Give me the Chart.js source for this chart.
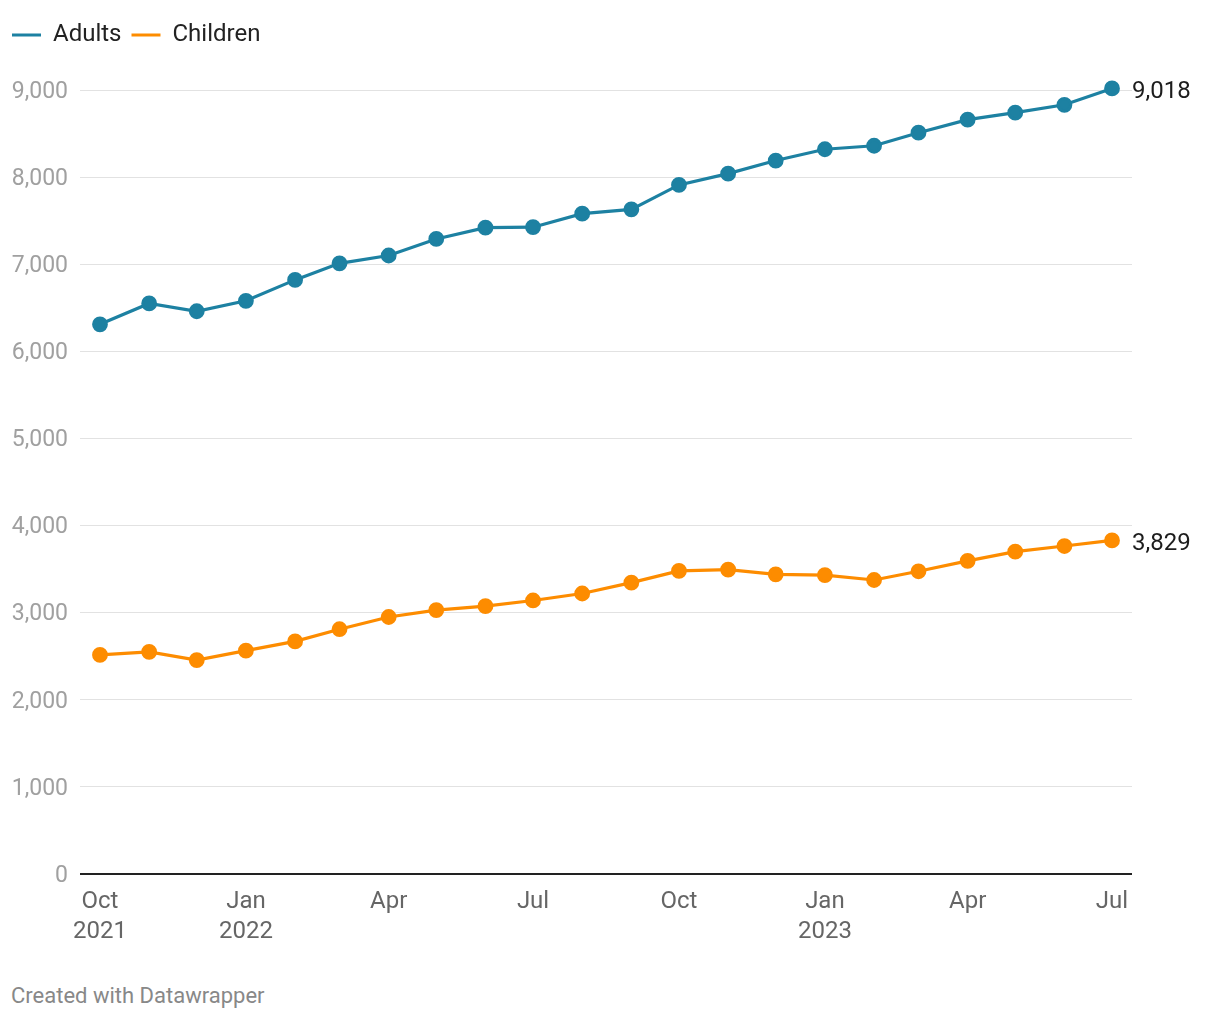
<!DOCTYPE html>
<html>
<head>
<meta charset="utf-8">
<script src="https://cdn.jsdelivr.net/npm/chart.js@4"></script>
<style>
  body { margin: 0; background: #fff; font-family: Roboto, "Noto Sans", sans-serif; }
  #wrap { position: relative; width: 1220px; height: 960px; }
  #footer { position: absolute; left: 11px; top: 983px; font-size: 22px; color: #888; }
</style>
</head>
<body>
<div id="wrap"><canvas id="chart"></canvas></div>
<div id="footer">Created with Datawrapper</div>
<script>
// Monthly values, Oct 2021 to Jul 2023
var months = ["Oct", "Nov", "Dec", "Jan", "Feb", "Mar", "Apr", "May", "Jun", "Jul", "Aug", "Sep",
              "Oct", "Nov", "Dec", "Jan", "Feb", "Mar", "Apr", "May", "Jun", "Jul"];
var yearOf = [2021, 2021, 2021, 2022, 2022, 2022, 2022, 2022, 2022, 2022, 2022, 2022,
              2022, 2022, 2022, 2023, 2023, 2023, 2023, 2023, 2023, 2023];
var monthNum = [9, 10, 11, 0, 1, 2, 3, 4, 5, 6, 7, 8, 9, 10, 11, 0, 1, 2, 3, 4, 5, 6];
var yearLabels = { 0: "2021", 3: "2022", 15: "2023" };
var tickIndexes = [0, 3, 6, 9, 12, 15, 18, 21];

var adults = [6310, 6550, 6460, 6580, 6820, 7010, 7100, 7290, 7420, 7425, 7580, 7630,
              7910, 8040, 8190, 8320, 8360, 8510, 8660, 8740, 8830, 9018];
var children = [2515, 2550, 2455, 2565, 2670, 2810, 2950, 3030, 3075, 3140, 3220, 3345,
                3480, 3495, 3440, 3430, 3375, 3475, 3595, 3700, 3765, 3829];

// days since the first month
var start = Date.UTC(yearOf[0], monthNum[0], 1);
var days = yearOf.map(function (y, i) {
    return (Date.UTC(y, monthNum[i], 1) - start) / 86400000;
});
var lastDay = days[days.length - 1];

function toPoints(arr) {
    return arr.map(function (v, i) { return { x: days[i], y: v }; });
}

// label at the end of each line
var endLabels = {
    id: 'endLabels',
    afterDatasetsDraw: function (chart) {
        var ctx = chart.ctx;
        ctx.save();
        ctx.font = '24px Roboto';
        ctx.fillStyle = '#1d1d1d';
        ctx.textBaseline = 'middle';
        chart.data.datasets.forEach(function (ds, i) {
            var meta = chart.getDatasetMeta(i);
            var pt = meta.data[meta.data.length - 1];
            var v = ds.data[ds.data.length - 1].y;
            ctx.fillText(v.toLocaleString('en-US'), pt.x + 20, pt.y + 4);
        });
        ctx.restore();
    }
};

// make the legend take a fixed height
var legendHeight = {
    id: 'legendHeight',
    beforeInit: function (chart) {
        var fit = chart.legend.fit;
        chart.legend.fit = function () {
            fit.bind(chart.legend)();
            this.height = 77;
        };
    }
};

new Chart(document.getElementById('chart'), {
    type: 'line',
    data: {
        datasets: [{
            label: 'Adults',
            data: toPoints(adults),
            borderColor: '#1d81a2',
            backgroundColor: '#1d81a2',
            borderWidth: 3.2,
            pointRadius: 6.3,
            pointHoverRadius: 6.3,
            clip: false
        }, {
            label: 'Children',
            data: toPoints(children),
            borderColor: '#fd8c00',
            backgroundColor: '#fd8c00',
            borderWidth: 3.2,
            pointRadius: 6.3,
            pointHoverRadius: 6.3,
            clip: false
        }]
    },
    options: {
        responsive: true,
        maintainAspectRatio: false,
        animation: false,
        layout: { padding: { left: 2, right: 88, top: 13, bottom: 0 } },
        plugins: {
            legend: {
                display: true,
                align: 'start',
                labels: {
                    boxWidth: 29,
                    boxHeight: 3,
                    padding: 10,
                    color: '#222',
                    font: { family: 'Roboto', size: 24 },
                    generateLabels: function (chart) {
                        return chart.data.datasets.map(function (ds, i) {
                            return {
                                text: ds.label,
                                fillStyle: ds.borderColor,
                                strokeStyle: ds.borderColor,
                                lineWidth: 0,
                                fontColor: '#222',
                                datasetIndex: i,
                                hidden: false
                            };
                        });
                    }
                }
            },
            tooltip: { enabled: false }
        },
        scales: {
            x: {
                type: 'linear',
                min: -12.6,
                max: lastDay + 12.6,
                afterBuildTicks: function (scale) {
                    scale.ticks = tickIndexes.map(function (i) { return { value: days[i] }; });
                },
                afterFit: function (scale) { scale.height = 86; },
                grid: { display: false },
                border: { display: false },
                ticks: {
                    autoSkip: false,
                    maxRotation: 0,
                    padding: 5,
                    color: '#666',
                    font: { family: 'Roboto', size: 24, lineHeight: 1.25 },
                    callback: function (v) {
                        var i = days.indexOf(v);
                        if (yearLabels[i]) return [months[i], yearLabels[i]];
                        return months[i];
                    }
                }
            },
            y: {
                min: 0,
                max: 9000,
                afterFit: function (scale) { scale.width = 78; },
                border: { display: false },
                grid: {
                    drawTicks: false,
                    color: function (c) { return c.tick.value === 0 ? '#222' : '#e2e2e2'; },
                    lineWidth: function (c) { return c.tick.value === 0 ? 2 : 1; }
                },
                ticks: {
                    stepSize: 1000,
                    padding: 12,
                    labelOffset: 2,
                    color: '#a0a0a0',
                    font: { family: 'Roboto', size: 23 },
                    callback: function (v) { return v.toLocaleString('en-US'); }
                }
            }
        }
    },
    plugins: [endLabels, legendHeight]
});
</script>
</body>
</html>
